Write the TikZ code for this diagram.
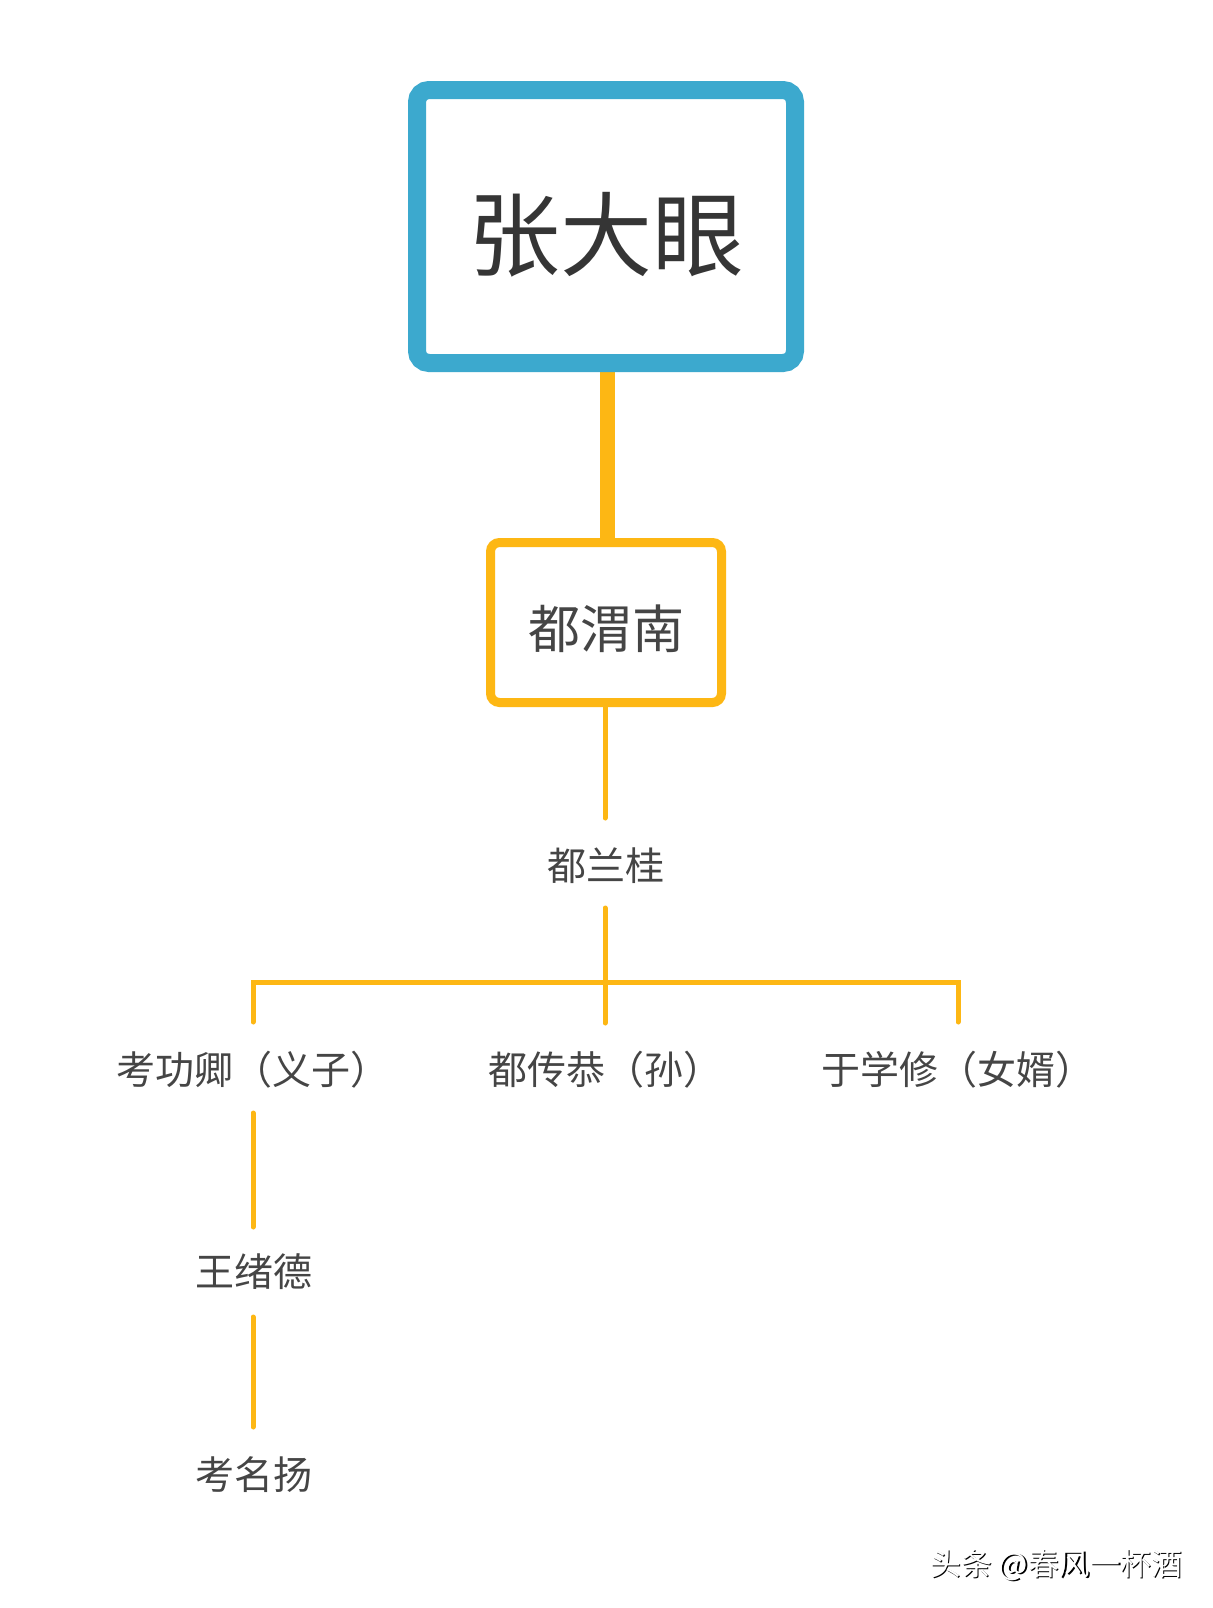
\documentclass[tikz,border=0pt]{standalone}
\usepackage{fontspec}
\newfontfamily\cjk{Noto Sans CJK SC}
\definecolor{boxblue}{HTML}{3CA9CE}
\definecolor{lineor}{HTML}{FDB714}
\definecolor{txtdark}{HTML}{353535}
\definecolor{txtmid}{HTML}{454545}
\begin{document}
\begin{tikzpicture}[x=0.5pt,y=-0.5pt,
  lbl/.style={font=\cjk\fontsize{19.5}{22}\selectfont, text=txtmid, inner sep=0pt},
  conn/.style={draw=lineor, line width=2.5pt, line cap=round},
  bracketline/.style={draw=lineor, line width=2.5pt, line cap=round, line join=miter},
  rootbox/.style={draw=boxblue, line width=9pt, rounded corners=6pt, fill=white,
    minimum width=189pt, minimum height=136.5pt, inner sep=0pt},
  sonbox/.style={draw=lineor, line width=4.5pt, rounded corners=4.5pt, fill=white,
    minimum width=115.5pt, minimum height=80pt, inner sep=0pt},
  wm/.style={font=\cjk\fontsize{15.4}{18}\selectfont, inner sep=0pt, anchor=west}]
\useasboundingbox[fill=white] (0,0) rectangle (1212,1608);

% thick connector (behind boxes)
\coordinate (thtop) at (607,300);
\coordinate (thbot) at (607,600);
\draw[draw=lineor, line width=7.5pt] (thtop) -- (thbot);

% boxes
\node[rootbox] (root) at (606,226.5) {};
\node[font=\cjk\fontsize{46}{50}\selectfont, text=txtdark, inner sep=0pt] (rootlbl) at (606,235) {张大眼};
\node[sonbox] (son) at (606,622.5) {};
\node[font=\cjk\fontsize{26}{30}\selectfont, text=txtmid, inner sep=0pt] (sonlbl) at (606,629) {都渭南};

% labels
\node[lbl] (lan) at (606,866) {都兰桂};
\node[lbl, anchor=west] (kao) at (116,1070) {考功卿（义子）};
\node[lbl, anchor=west] (chuan) at (488,1070) {都传恭（孙）};
\node[lbl, anchor=west] (yu) at (821,1070) {于学修（女婿）};
\node[lbl] (wang) at (254,1272) {王绪德};
\node[lbl] (ming) at (254,1475) {考名扬};

% connector end points
\coordinate (a1) at (605,707);
\coordinate (a2) at (605,818);
\coordinate (b1) at (605,908);
\coordinate (b2) at (605,1023);
\coordinate (bl) at (253,1022);
\coordinate (br) at (958,1022);
\coordinate (c1) at (253,1113);
\coordinate (c2) at (253,1227);
\coordinate (d1) at (253,1317);
\coordinate (d2) at (253,1427);

\draw[conn] (a1) -- (a2);
\draw[conn] (b1) -- (b2);
\draw[bracketline] (bl) -- (253,982) -- (958,982) -- (br);
\draw[conn] (c1) -- (c2);
\draw[conn] (d1) -- (d2);

% watermark
\node[wm, text=black] (wmsh) at (931.5,1566.5) {头条 @春风一杯酒};
\node[wm, text=white] (wmtx) at (930,1565) {头条 @春风一杯酒};
\end{tikzpicture}
\end{document}
